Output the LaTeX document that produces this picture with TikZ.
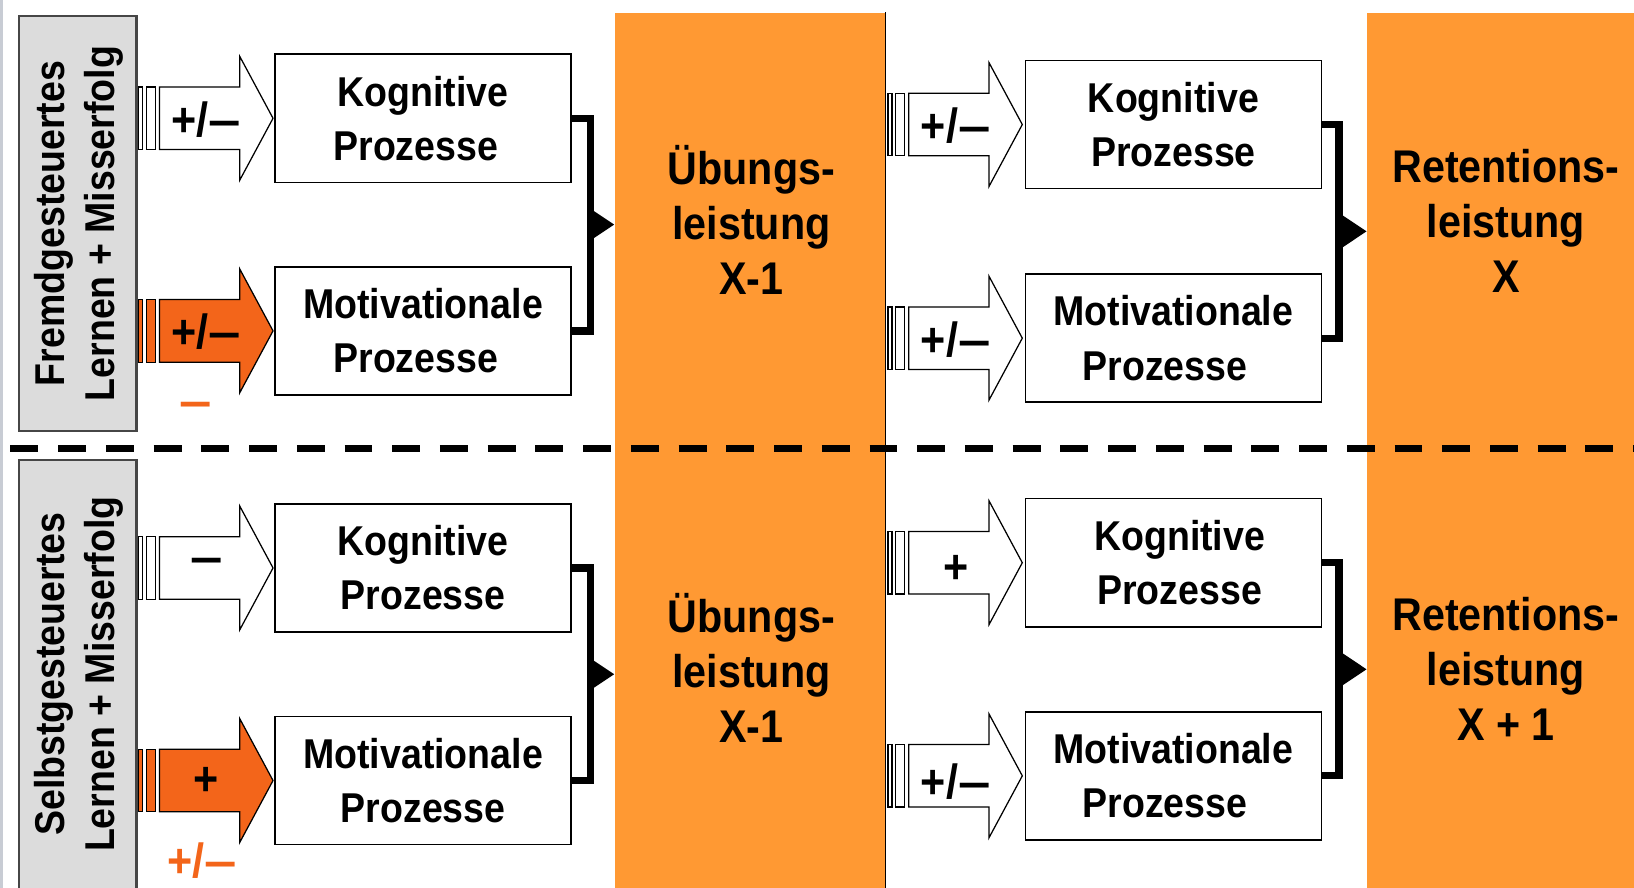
\documentclass[tikz,border=0pt]{standalone}
\usepackage{fontspec}
\setmainfont{Liberation Sans}[FakeStretch=0.9]
\usetikzlibrary{arrows.meta,calc}
\definecolor{colOr}{RGB}{255,153,51}
\definecolor{arOr}{RGB}{243,101,26}
\definecolor{grayFill}{RGB}{220,220,220}
\definecolor{grayLine}{RGB}{70,70,70}
\definecolor{edgeLine}{RGB}{200,204,212}
\newcommand\mydsh{\scalebox{1.35}[1]{–}}
\newcommand\blkarrow[6]{%
  \draw[arrowline, fill=#3] (#1,#2-30) rectangle (#1+4,#2+30);
  \draw[arrowline, fill=#3] (#1+7.5,#2-30) rectangle (#1+16,#2+30);
  \draw[arrowline, fill=#3] (#1+20,#2-30) -- (#1+97,#2-30) -- (#1+97,#2-59.5)
     -- (#1+129,#2) -- (#1+97,#2+59.5) -- (#1+97,#2+30) -- (#1+20,#2+30) -- cycle;
  \node[arrowtext] (#4) at (#1+65,#2+#6) {#5};
}
\tikzset{
  arrowline/.style={draw=black, line width=0.6pt, line join=miter},
  arrowtext/.style={font=\fontsize{23}{24}\selectfont\bfseries, inner sep=0pt},
  procbox/.style={draw=black, line width=0.8pt, fill=white, minimum width=142pt,
    minimum height=61.5pt, inner sep=0pt, align=center,
    font=\fontsize{20}{26}\selectfont\bfseries},
  colbox/.style={fill=colOr, draw=none, inner sep=0pt},
  coltext/.style={align=center, inner sep=0pt, font=\fontsize{22}{26.5}\selectfont\bfseries},
  sidebox/.style={fill=grayFill, draw=grayLine, line width=1pt, inner sep=0pt},
  sidetext/.style={rotate=90, align=center, inner sep=0pt, font=\fontsize{20}{24}\selectfont\bfseries},
  bracket/.style={draw=black, line width=3.5pt, line join=miter},
  tip/.style={-{Triangle[length=12pt,width=15pt]}},
  sep/.style={draw=black, line width=3.3pt, dash pattern=on 13.4pt off 9.5pt},
  orlabel/.style={text=arOr, inner sep=0pt, font=\fontsize{23}{24}\selectfont\bfseries},
}
\begin{document}
\begin{tikzpicture}[x=0.5pt,y=-0.5pt]
\useasboundingbox (0,0) rectangle (1568,852);
\fill[white] (0,0) rectangle (1568,852);
\fill[edgeLine] (0,0) rectangle (2.5,852);

% orange columns
\node[colbox, minimum width=129.5pt, minimum height=424pt] (c1) at (719.5,436) {};
\node[colbox, minimum width=129pt, minimum height=424pt] (c2) at (1441,436) {};
\draw[black, line width=0.6pt] (c1.north east) -- (c1.south east);

\node[coltext] (u1) at (721,211) {Übungs-\\leistung\\X-1};
\node[coltext] (u2) at (721,641) {Übungs-\\leistung\\X-1};
\node[coltext] (r1) at (1445,212) {Retentions-\\leistung\\X};
\node[coltext] (r2) at (1445,642) {Retentions-\\leistung\\X + 1};

% side boxes
\node[sidebox, minimum width=56.5pt, minimum height=199.5pt] (s1) at (74.5,214.5) {};
\node[sidebox, minimum width=56.5pt, minimum height=214.5pt] (s2) at (74.5,655.5) {};
\node[sidetext] (st1) at (76,214.5) {Fremdgesteuertes\\Lernen + Misserfolg};
\node[sidetext] (st2) at (76,647) {Selbstgesteuertes\\Lernen + Misserfolg};

% process boxes
\node[procbox] (kTL) at (406,113.5) {Kognitive\\Prozesse\hspace*{7pt}};
\node[procbox] (mTL) at (406,317.5) {Motivationale\\Prozesse\hspace*{7pt}};
\node[procbox] (kBL) at (406,545) {Kognitive\\Prozesse};
\node[procbox] (mBL) at (406,749) {Motivationale\\Prozesse};
\node[procbox] (kTR) at (1126,119.5) {Kognitive\\Prozesse};
\node[procbox] (mTR) at (1126,324.5) {Motivationale\\Prozesse\hspace*{8pt}};
\node[procbox] (kBR) at (1126,540) {\hspace*{6pt}Kognitive\\\hspace*{6pt}Prozesse};
\node[procbox] (mBR) at (1126,744.5) {Motivationale\\Prozesse\hspace*{8pt}};

% block arrows
\blkarrow{133}{113.5}{white}{a1}{+/\mydsh}{1}
\blkarrow{133}{317.5}{arOr}{a2}{+/\mydsh}{1}
\blkarrow{133}{545}{white}{a3}{\mydsh}{-2}
\blkarrow{133}{749}{arOr}{a4}{+}{1}
\blkarrow{852}{119.5}{white}{a5}{+/\mydsh}{1}
\blkarrow{852}{324.5}{white}{a6}{+/\mydsh}{1}
\blkarrow{852}{540}{white}{a7}{+}{6}
\blkarrow{852}{744.5}{white}{a8}{+/\mydsh}{6}

\node[orlabel] (o1) at (188,393) {\mydsh};
\node[orlabel] (o2) at (194,826) {+/\mydsh};

% brackets
\draw[bracket] (kTL.east) -- ++(18,0) |- (mTL.east);
\coordinate (j1) at ($(kTL.east)!.5!(mTL.east)+(18,0)$);
\draw[bracket, tip] (j1) -- (j1 -| c1.west);
\draw[bracket] (kBL.east) -- ++(18,0) |- (mBL.east);
\coordinate (j2) at ($(kBL.east)!.5!(mBL.east)+(18,0)$);
\draw[bracket, tip] (j2) -- (j2 -| c1.west);
\draw[bracket] (kTR.east) -- ++(16,0) |- (mTR.east);
\coordinate (j3) at ($(kTR.east)!.5!(mTR.east)+(16,0)$);
\draw[bracket, tip] (j3) -- (j3 -| c2.west);
\draw[bracket] (kBR.east) -- ++(16,0) |- (mBR.east);
\coordinate (j4) at ($(kBR.east)!.5!(mBR.east)+(16,0)$);
\draw[bracket, tip] (j4) -- (j4 -| c2.west);

% separator
\coordinate (d0) at (10,430);
\coordinate (d1) at (1568,430);
\draw[sep] (d0) -- (d1);
\end{tikzpicture}
\end{document}
